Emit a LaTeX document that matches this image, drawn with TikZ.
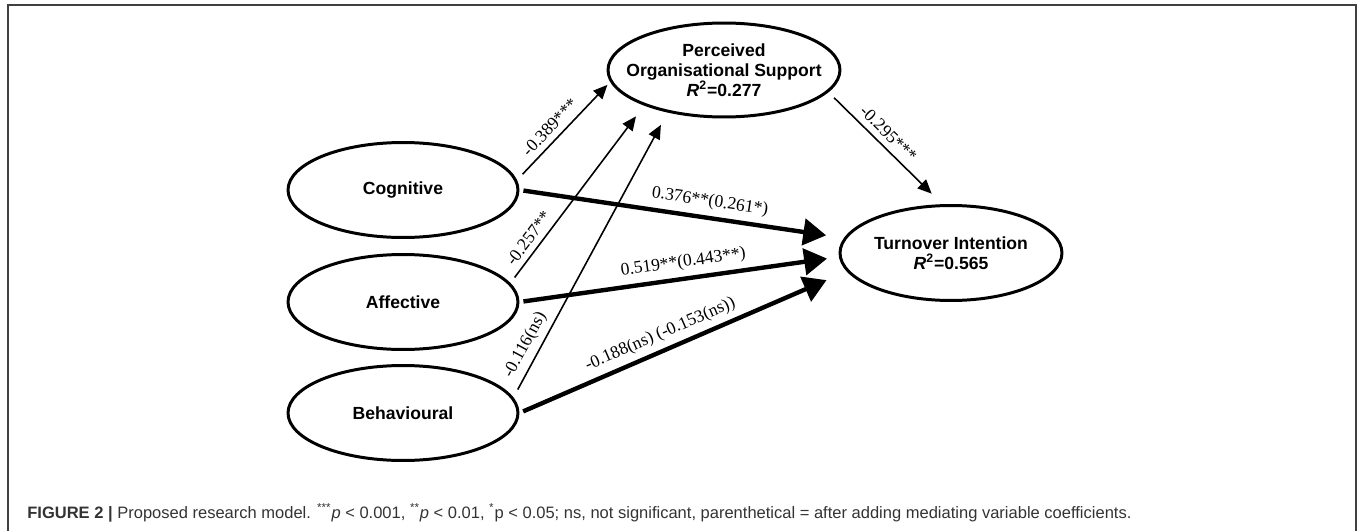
\documentclass[tikz,border=0pt]{standalone}
\usepackage{fontspec}
\setmainfont{Liberation Serif}
\setsansfont{Liberation Sans}
\usetikzlibrary{arrows.meta, shapes.geometric}

\begin{document}
\begin{tikzpicture}[
    x=0.02cm, y=-0.02cm,
    latent/.style={draw, ellipse, line width=1.7pt, inner sep=-1cm, align=center,
        minimum width=4.6cm, minimum height=1.9cm,
        font=\sffamily\bfseries\fontsize{10}{11.4}\selectfont},
    thinarrow/.style={-{Triangle[length=8pt,width=7pt]}, line width=0.9pt},
    thickarrow/.style={-{Triangle[length=13pt,width=15pt]}, line width=2.5pt},
    coef/.style={sloped, above, font=\fontsize{10}{12}\selectfont}
]
\useasboundingbox (0,0) rectangle (1357,531);
\draw[line width=1.1pt, black!75] (8,531) -- (8,5) -- (1356,5) -- (1356,531);

\node[latent] (cog) at (403,190) {Cognitive};
\node[latent] (aff) at (403,302) {Affective};
\node[latent] (beh) at (403,413) {Behavioural};
\node[latent, minimum width=4.64cm, minimum height=1.88cm] (pos) at (724,70)
    {Perceived\\Organisational Support\\\textit{R}\textsuperscript{2}=0.277};
\node[latent, minimum width=4.44cm] (ti) at (951,253)
    {Turnover Intention\\\textit{R}\textsuperscript{2}=0.565};

% paths to the mediator
\draw[thinarrow, shorten <=0.16cm, shorten >=0.08cm] (cog.5) -- node[coef, pos=.45] {-0.389***} (pos.186);
\draw[thinarrow, shorten <=0.14cm, shorten >=0.27cm] (aff.10) -- node[coef, pos=.21] {-0.257**} (pos.204);
\draw[thinarrow, shorten <=0.18cm, shorten >=0.28cm] (beh.8) -- node[coef, pos=.16] {-0.116(ns)} (pos.217);
\draw[thinarrow, shorten <=0.16cm, shorten >=0.3cm] (pos.348) -- node[coef, pos=.45] {-0.295***} (ti.100);

% direct paths
\draw[thickarrow, shorten <=0.08cm, shorten >=0.36cm] (cog.east) -- node[coef, pos=.58] {0.376**(0.261*)} (ti.172);
\draw[thickarrow, shorten <=0.08cm, shorten >=0.24cm] (aff.east) -- node[coef, pos=.52] {0.519**(0.443**)} (ti.182);
\draw[thickarrow, shorten <=0.08cm, shorten >=0.44cm] (beh.east) -- node[coef, pos=.45] {-0.188(ns) (-0.153(ns))} (ti.190);

\node[anchor=base west, inner sep=0pt, text=black!80, font=\sffamily\fontsize{9.4}{11}\selectfont] (caption) at (27,518)
    {\textbf{FIGURE 2 |} Proposed research model. \textsuperscript{***}\textit{p} < 0.001, \textsuperscript{**}\textit{p} < 0.01, \textsuperscript{*}p < 0.05; ns, not significant, parenthetical = after adding mediating variable coefficients.};
\end{tikzpicture}
\end{document}
